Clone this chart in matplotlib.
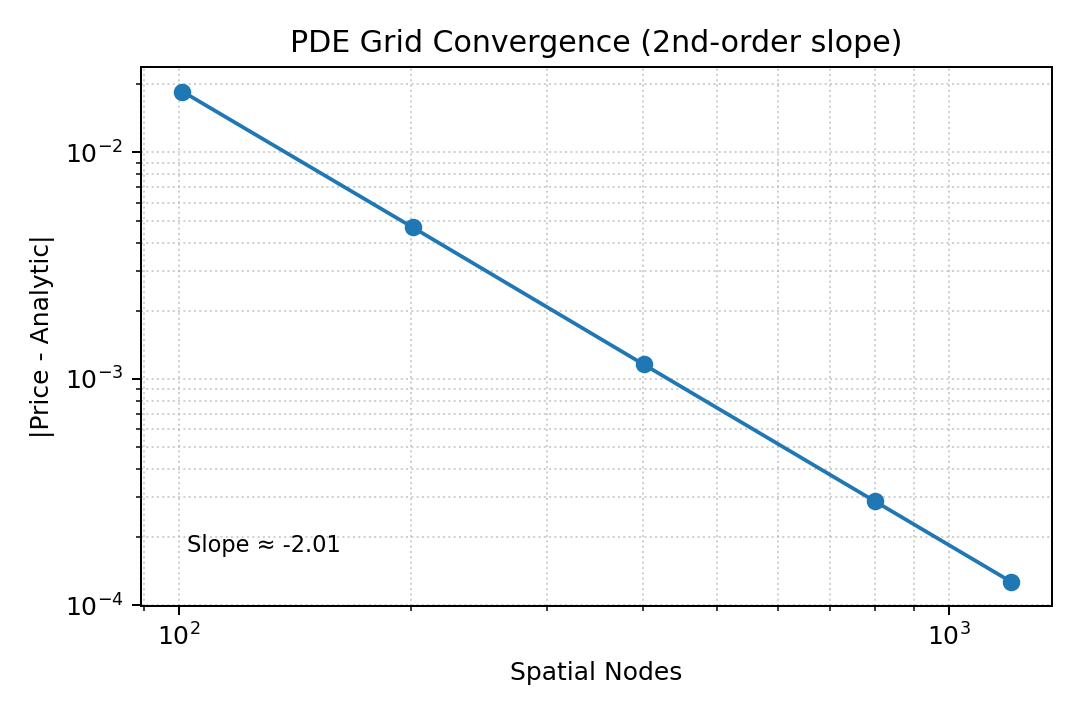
import matplotlib
matplotlib.use("Agg")
import matplotlib.pyplot as plt
import numpy as np

nodes = [101, 201, 401, 801, 1201]
errors = [0.01857, 0.00467, 0.001159, 0.000288, 0.0001276]
slope_label = "Slope ≈ -2.01"

fig, ax = plt.subplots(figsize=(6, 4), dpi=180)
ax.loglog(nodes, errors, marker='o', color='#1f77b4')
ax.set_xlabel("Spatial Nodes")
ax.set_ylabel("|Price - Analytic|")
ax.set_title("PDE Grid Convergence (2nd-order slope)")
ax.grid(True, which='both', linestyle=':', alpha=0.6)
ax.text(0.05, 0.1, slope_label, transform=ax.transAxes, fontsize=9)
fig.subplots_adjust(left=141/1080, right=1052/1080, top=1-67/720, bottom=1-606/720)
fig.savefig("out.png")
